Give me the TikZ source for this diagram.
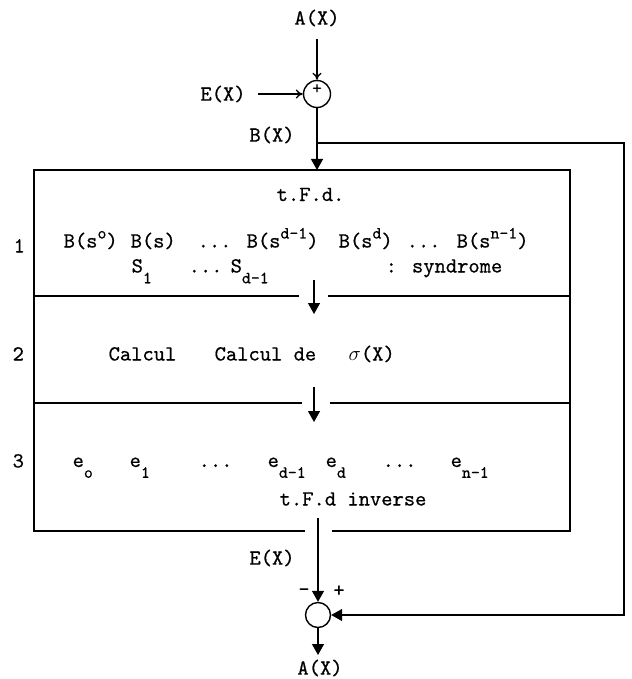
\documentclass[tikz,border=0pt]{standalone}
\usepackage{fontspec}
\newfontfamily\tw[FakeBold=0.6]{lmmono10-regular.otf}
\usetikzlibrary{arrows.meta}
\newcommand\upx[1]{\raisebox{0.42em}{\fontsize{17}{17}\selectfont #1}}
\newcommand\dnx[1]{\raisebox{-0.5em}{\fontsize{17}{17}\selectfont #1}}
\begin{document}
\begin{tikzpicture}[x=1pt,y=-1pt,line width=1.3pt,
  txt/.style={inner sep=0pt,font=\tw\fontsize{21.5}{21.5}\selectfont},
  lt/.style={txt,anchor=base west},
  fat/.style={-{Triangle[width=12pt,length=11pt]}},
  thin/.style={-{To[width=9pt,length=7pt]}},
  sumnode/.style={circle,draw,line width=1.4pt,inner sep=0pt}]
\useasboundingbox (0,0) rectangle (631,679);

% top summation
\node[txt] (Atop) at (317,18) {A(X)};
\coordinate (a0) at (317,39);
\node[sumnode,minimum size=27pt] (c1) at (317,94) {};
\node[txt,font=\tw\fontsize{18}{18}\selectfont] (p1) at (317,89) {+};
\node[txt] (Ein) at (223,94) {E(X)};
\coordinate (e0) at (258,94);
\draw[thin] (a0) -- (c1.north);
\draw[thin] (e0) -- (c1.west);
\node[txt] (Bx) at (272,135) {B(X)};

% box
\coordinate (boxtop) at (317,170);
\coordinate (bl1) at (305,531);
\coordinate (bl2) at (332,531);
\coordinate (tl) at (34,170);
\coordinate (tr) at (570,170);
\coordinate (bll) at (34,531);
\coordinate (brr) at (570,531);
\draw (bl1) -- (bll) -- (tl) -- (tr) -- (brr) -- (bl2);
\draw[fat] (c1.south) -- (boxtop);

% dividers
\coordinate (d1a) at (34,296); \coordinate (d1b) at (299,296);
\coordinate (d1c) at (328,296); \coordinate (d1d) at (570,296);
\draw (d1a) -- (d1b); \draw (d1c) -- (d1d);
\coordinate (ar1s) at (314,280); \coordinate (ar1e) at (314,314);
\draw[fat] (ar1s) -- (ar1e);
\coordinate (d2a) at (34,403); \coordinate (d2b) at (302,403);
\coordinate (d2c) at (330,403); \coordinate (d2d) at (570,403);
\draw (d2a) -- (d2b); \draw (d2c) -- (d2d);
\coordinate (ar2s) at (314,387); \coordinate (ar2e) at (314,422);
\draw[fat] (ar2s) -- (ar2e);

% row labels
\node[lt] (r1) at (13,252.5) {1};
\node[lt] (r2) at (12,360.5) {2};
\node[lt] (r3) at (12,467.5) {3};

% row 1
\node[lt] (tfd) at (276,201) {t.F.d.};
\node[lt] (b0) at (63,247.5) {B(s\upx{o})};
\node[lt] (b1) at (130,247.5) {B(s)};
\node[lt] (b2) at (197,247.5) {...};
\node[lt] (b3) at (246,247.5) {B(s\upx{d-1})};
\node[lt] (b4) at (338,247.5) {B(s\upx{d})};
\node[lt] (b5) at (406,247.5) {...};
\node[lt] (b6) at (456,247.5) {B(s\upx{n-1})};
\node[lt] (s1) at (131,272.5) {S\dnx{1}};
\node[lt] (s2) at (188,272.5) {...};
\node[lt] (s3) at (230,272.5) {S\dnx{d-1}};
\node[lt] (s4) at (385,272.5) {: syndrome};

% row 2
\node[lt] (k1) at (108,360.5) {Calcul};
\node[lt] (k2) at (214,360.5) {Calcul de};
\node[lt] (k3) at (348,360.5) {$\sigma$(X)};

% row 3
\node[lt] (f0) at (72,467) {e\dnx{o}};
\node[lt] (f1) at (129,467) {e\dnx{1}};
\node[lt] (f2) at (198,467) {...};
\node[lt] (f3) at (267,467) {e\dnx{d-1}};
\node[lt] (f4) at (325,467) {e\dnx{d}};
\node[lt] (f5) at (382,467) {...};
\node[lt] (f6) at (450,467) {e\dnx{n-1}};
\node[lt] (inv) at (279,505.5) {t.F.d inverse};

% bottom subtraction
\coordinate (b0s) at (318,518);
\node[sumnode,minimum size=25pt] (c2) at (318,615) {};
\node[txt] (Eout) at (272,558) {E(X)};
\node[txt] (minus) at (304,592) {-};
\node[txt] (plus) at (339,591) {+};
\draw[fat] (b0s) -- (c2.north);
\coordinate (out) at (318,655);
\draw[fat] (c2.south) -- (out);
\node[txt] (Abot) at (320,668) {A(X)};

% feedback
\coordinate (fb) at (317,143);
\coordinate (fbR) at (624,143);
\coordinate (fbRB) at (624,615);
\draw[fat] (fb) -- (fbR) -- (fbRB) -- (c2.east);
\end{tikzpicture}
\end{document}
